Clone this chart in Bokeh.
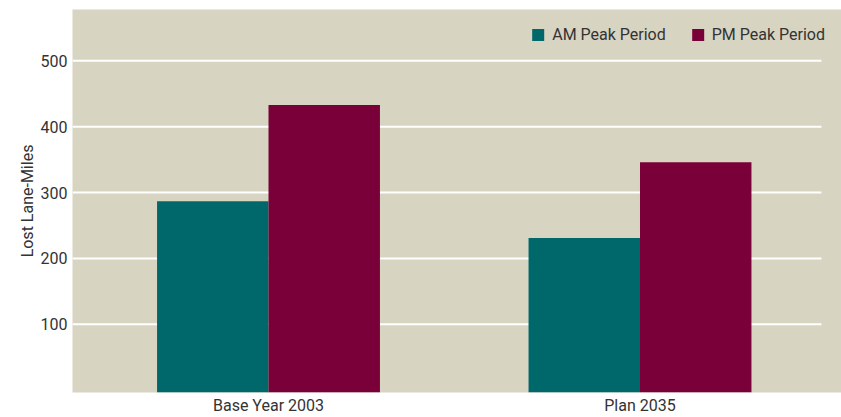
from bokeh.plotting import figure
from bokeh.models import ColumnDataSource, Range1d, FixedTicker, Legend, LegendItem
from bokeh.transform import dodge
from bokeh.embed import file_html
from bokeh.resources import INLINE

categories = ["Base Year 2003", "Plan 2035"]
am_peak = [287, 231]
pm_peak = [433, 346]
y_ticks = [100, 200, 300, 400, 500]
series_names = ["AM Peak Period", "PM Peak Period"]

FONT = "Liberation Sans Narrow, Arial Narrow, Roboto, sans-serif"
TEXT_COLOR = "#333333"
BG = "#d7d4c2"
AM_COLOR = "#00686b"
PM_COLOR = "#7a0039"
FS = "16px"

idx = list(range(len(categories)))
src = ColumnDataSource(dict(x=idx, am=am_peak, pm=pm_peak))

x_start, x_end = -0.5276, 1.5424
y_start, y_end = -3.5, 578

p = figure(width=841, height=417, output_backend="svg", toolbar_location=None,
           x_range=Range1d(x_start, x_end), y_range=Range1d(y_start, y_end),
           min_border_left=72, min_border_right=0, min_border_top=9, min_border_bottom=22)
p.background_fill_color = BG
p.border_fill_color = "white"
p.outline_line_color = None
p.xgrid.grid_line_color = None
p.ygrid.grid_line_color = None

# gridlines (end short of right edge like the reference)
p.segment(x0=[x_start] * len(y_ticks), x1=[1.4885] * len(y_ticks), y0=y_ticks, y1=y_ticks,
          line_color="white", line_width=2)

r_am = p.vbar(x=dodge("x", -0.15), top="am", bottom=y_start, width=0.30, source=src,
              fill_color=AM_COLOR, line_color=None)
r_pm = p.vbar(x=dodge("x", 0.15), top="pm", bottom=y_start, width=0.30, source=src,
              fill_color=PM_COLOR, line_color=None)

# axes
p.xaxis.ticker = FixedTicker(ticks=idx)
p.xaxis.major_label_overrides = {i: c for i, c in zip(idx, categories)}
p.yaxis.ticker = FixedTicker(ticks=y_ticks)
for ax in (p.xaxis[0], p.yaxis[0]):
    ax.axis_line_color = None
    ax.major_tick_line_color = None
    ax.minor_tick_line_color = None
    ax.major_tick_in = 0
    ax.major_tick_out = 0
    ax.major_label_text_font = FONT
    ax.major_label_text_font_size = FS
    ax.major_label_text_color = TEXT_COLOR
p.xaxis.major_label_standoff = 3
p.yaxis.major_label_standoff = 5
p.yaxis.axis_label = "Lost Lane-Miles"
p.yaxis.axis_label_text_font = FONT
p.yaxis.axis_label_text_font_size = FS
p.yaxis.axis_label_text_font_style = "normal"
p.yaxis.axis_label_text_color = TEXT_COLOR
p.yaxis.axis_label_standoff = 1

legend = Legend(items=[LegendItem(label=series_names[0], renderers=[r_am]),
                       LegendItem(label=series_names[1], renderers=[r_pm])],
                orientation="horizontal", location="top_right",
                background_fill_alpha=0, border_line_color=None,
                glyph_width=15, glyph_height=15, label_standoff=7, spacing=24,
                padding=0, margin=16,
                label_text_font=FONT, label_text_font_size=FS,
                label_text_color=TEXT_COLOR)
p.add_layout(legend)

open("out.html", "w").write(file_html(p, INLINE))
